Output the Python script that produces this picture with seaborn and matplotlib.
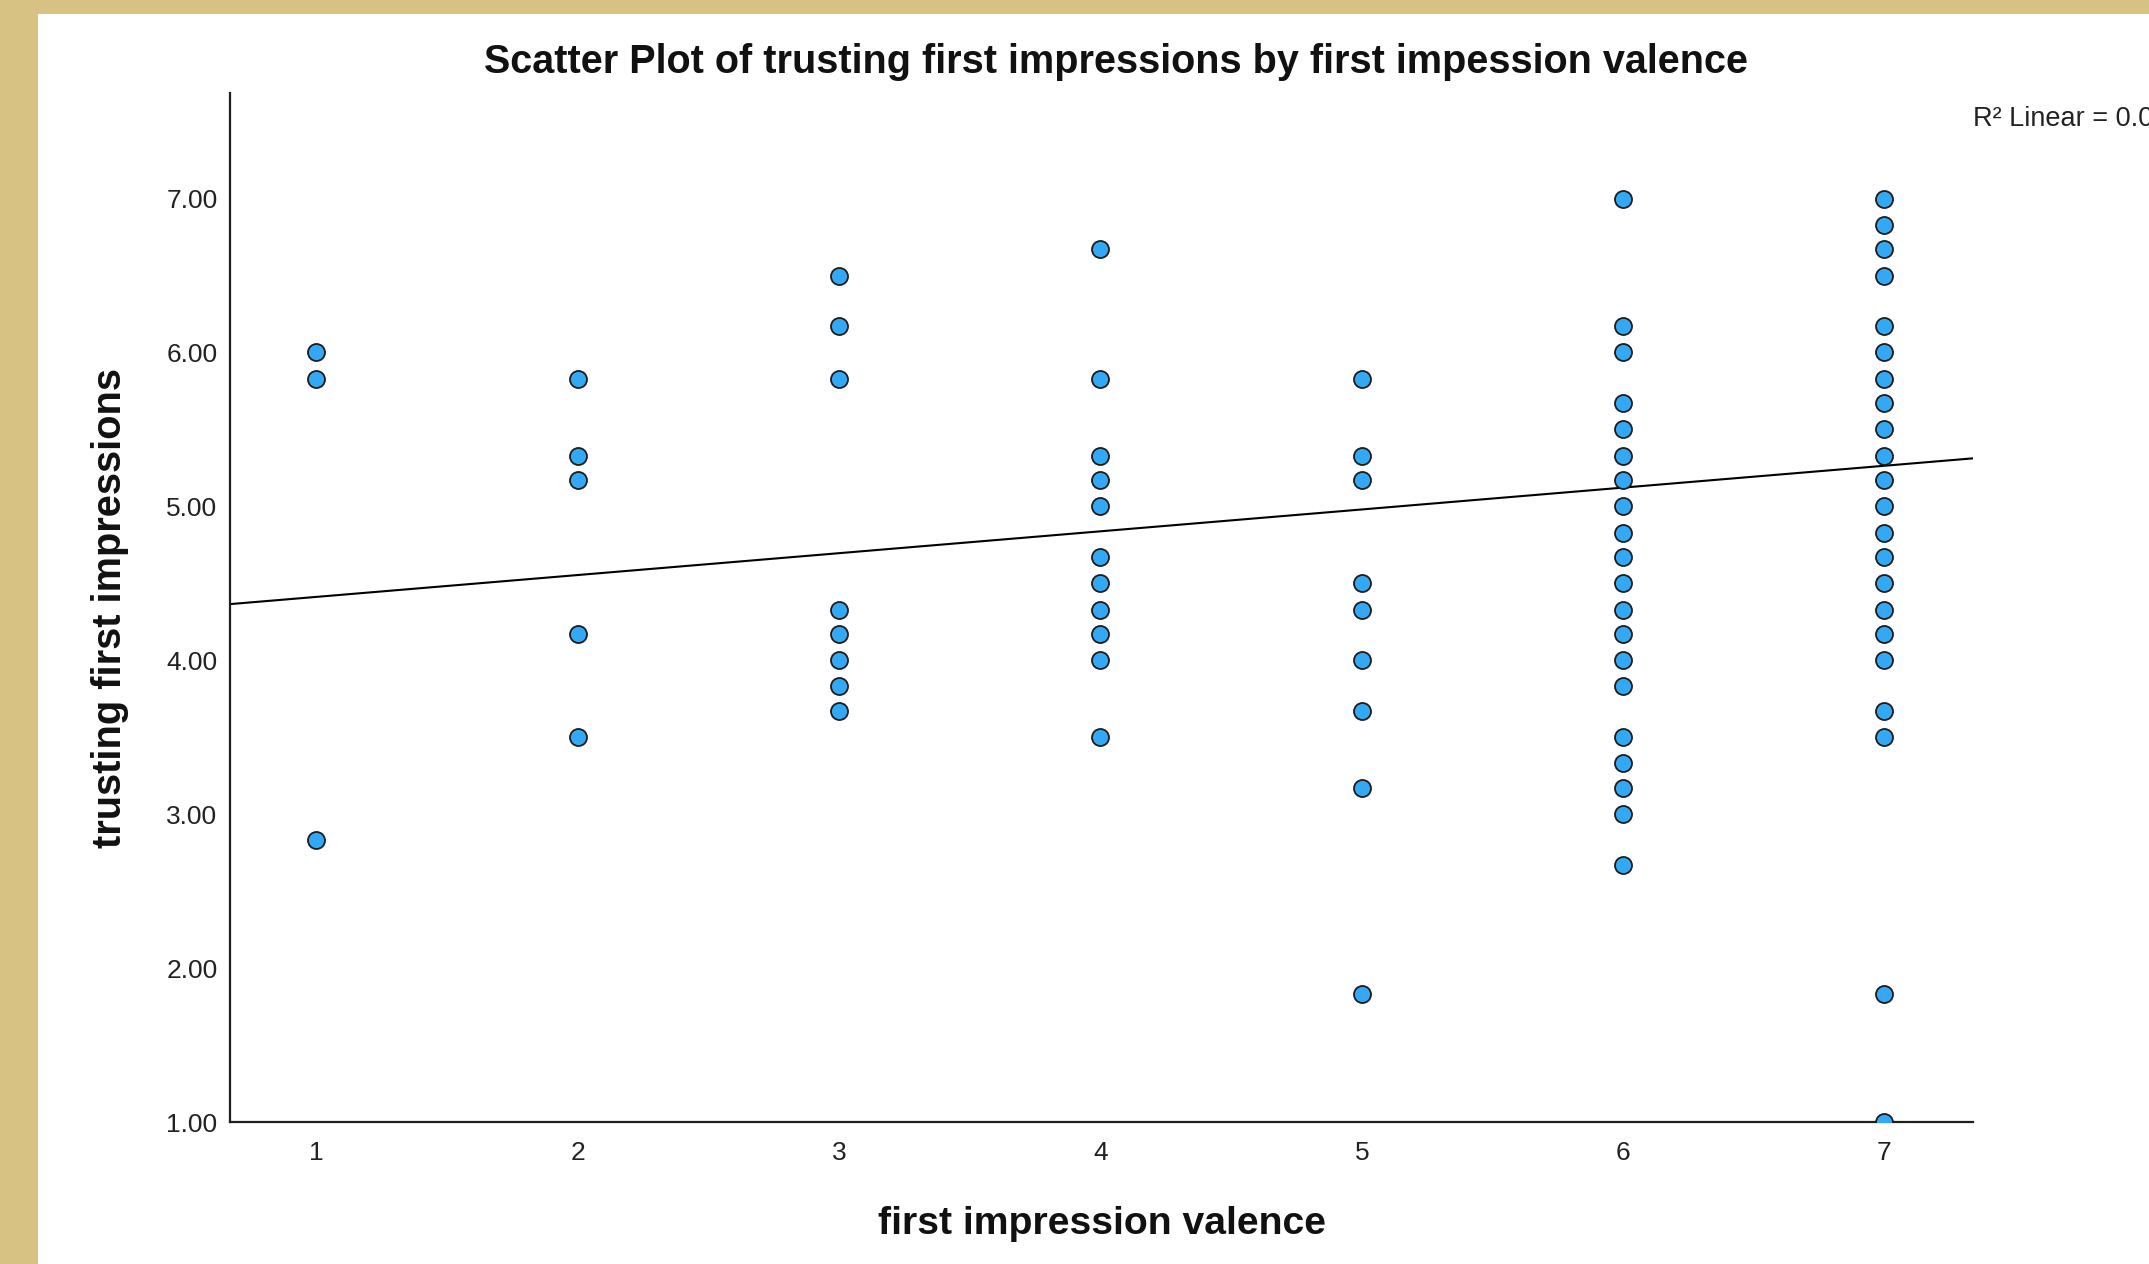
import numpy as np
import pandas as pd
import matplotlib
matplotlib.use("Agg")
import matplotlib.pyplot as plt
from matplotlib.patches import Rectangle
import seaborn as sns

# ---- data ----
valence_1 = [6.00, 5.83, 2.83]
valence_2 = [5.83, 5.33, 5.17, 4.17, 3.50]
valence_3 = [6.50, 6.17, 5.83, 4.33, 4.17, 4.00, 3.83, 3.67]
valence_4 = [6.67, 5.83, 5.33, 5.17, 5.00, 4.67, 4.50, 4.33, 4.17, 4.00, 3.50]
valence_5 = [5.83, 5.33, 5.17, 4.50, 4.33, 4.00, 3.67, 3.17, 1.83]
valence_6 = [7.00, 6.17, 6.00, 5.67, 5.50, 5.33, 5.17, 5.00, 4.83, 4.67,
             4.50, 4.33, 4.17, 4.00, 3.83, 3.50, 3.33, 3.17, 3.00, 2.67]
valence_7 = [7.00, 6.83, 6.67, 6.50, 6.17, 6.00, 5.83, 5.67, 5.50, 5.33,
             5.17, 5.00, 4.83, 4.67, 4.50, 4.33, 4.17, 4.00, 3.67, 3.50,
             1.83, 1.00]
valence_levels = [1, 2, 3, 4, 5, 6, 7]
y_ticks = [1.0, 2.0, 3.0, 4.0, 5.0, 6.0, 7.0]
fit_intercept = 4.27   # SPSS linear fit line
fit_slope = 0.142
r2_label = "R\u00b2 Linear = 0.0"

groups = [valence_1, valence_2, valence_3, valence_4, valence_5, valence_6, valence_7]
df = pd.DataFrame({
    "first impression valence": np.concatenate([[lv] * len(g) for lv, g in zip(valence_levels, groups)]),
    "trusting first impressions": np.concatenate(groups),
})

# ---- figure ----
W, H = 2149, 1264
sns.set_style("white")
plt.rcParams["font.family"] = ["Liberation Sans", "DejaVu Sans"]

fig = plt.figure(figsize=(W / 100, H / 100), dpi=100)
fig.patch.set_facecolor("#d8c283")
fig.patches.append(Rectangle((38 / W, 0), 1, 1 - 14 / H, transform=fig.transFigure,
                             facecolor="white", edgecolor="none", zorder=-5))

left, right, top, bottom = 230, 1973, 93, 1122
ax = fig.add_axes([left / W, 1 - bottom / H, (right - left) / W, (bottom - top) / H])
ax.set_zorder(2)
ax.patch.set_alpha(0)

xlim = (0.669, 7.339)
ylim = (1.0, 7.686)

sns.scatterplot(data=df, x="first impression valence", y="trusting first impressions",
                ax=ax, s=150, color="#33a8f5", edgecolor="#1c1c1c", linewidth=1.3,
                zorder=3, legend=False)

fit_x = np.array(xlim)
sns.lineplot(x=fit_x, y=fit_intercept + fit_slope * fit_x, ax=ax, color="black",
             linewidth=1.5, zorder=2)

ax.set_xlim(*xlim)
ax.set_ylim(*ylim)
ax.set_xticks(valence_levels)
ax.set_xticklabels([str(v) for v in valence_levels])
ax.set_yticks(y_ticks)
ax.set_yticklabels([f"{v:.2f}" for v in y_ticks])
ax.tick_params(axis="both", length=0, labelsize=19, colors="#222222")
ax.tick_params(axis="y", pad=9)
ax.tick_params(axis="x", pad=14)

for s in ["top", "right"]:
    ax.spines[s].set_visible(False)
for s in ["left", "bottom"]:
    ax.spines[s].set_color("#1e1e1e")
    ax.spines[s].set_linewidth(1.6)

ax.set_xlabel("first impression valence", fontsize=28.2, fontweight="bold", color="#111111")
ax.set_ylabel("trusting first impressions", fontsize=28.6, fontweight="bold", color="#111111")
ax.xaxis.label.set_va("center")
ax.yaxis.label.set_va("center")
ax.xaxis.set_label_coords(0.5, -(1224 - bottom) / (bottom - top))
ax.yaxis.set_label_coords(-(left - 110) / (right - left), 0.5)

fig.text(1116 / W, 1 - 62 / H,
         "Scatter Plot of trusting first impressions by first impession valence",
         ha="center", va="center", fontsize=28.5, fontweight="bold", color="#111111")
fig.text(1973 / W, 1 - 119 / H, r2_label, ha="left", va="center",
         fontsize=19.5, color="#222222")

fig.savefig("out.png", dpi=100, facecolor=fig.get_facecolor())
